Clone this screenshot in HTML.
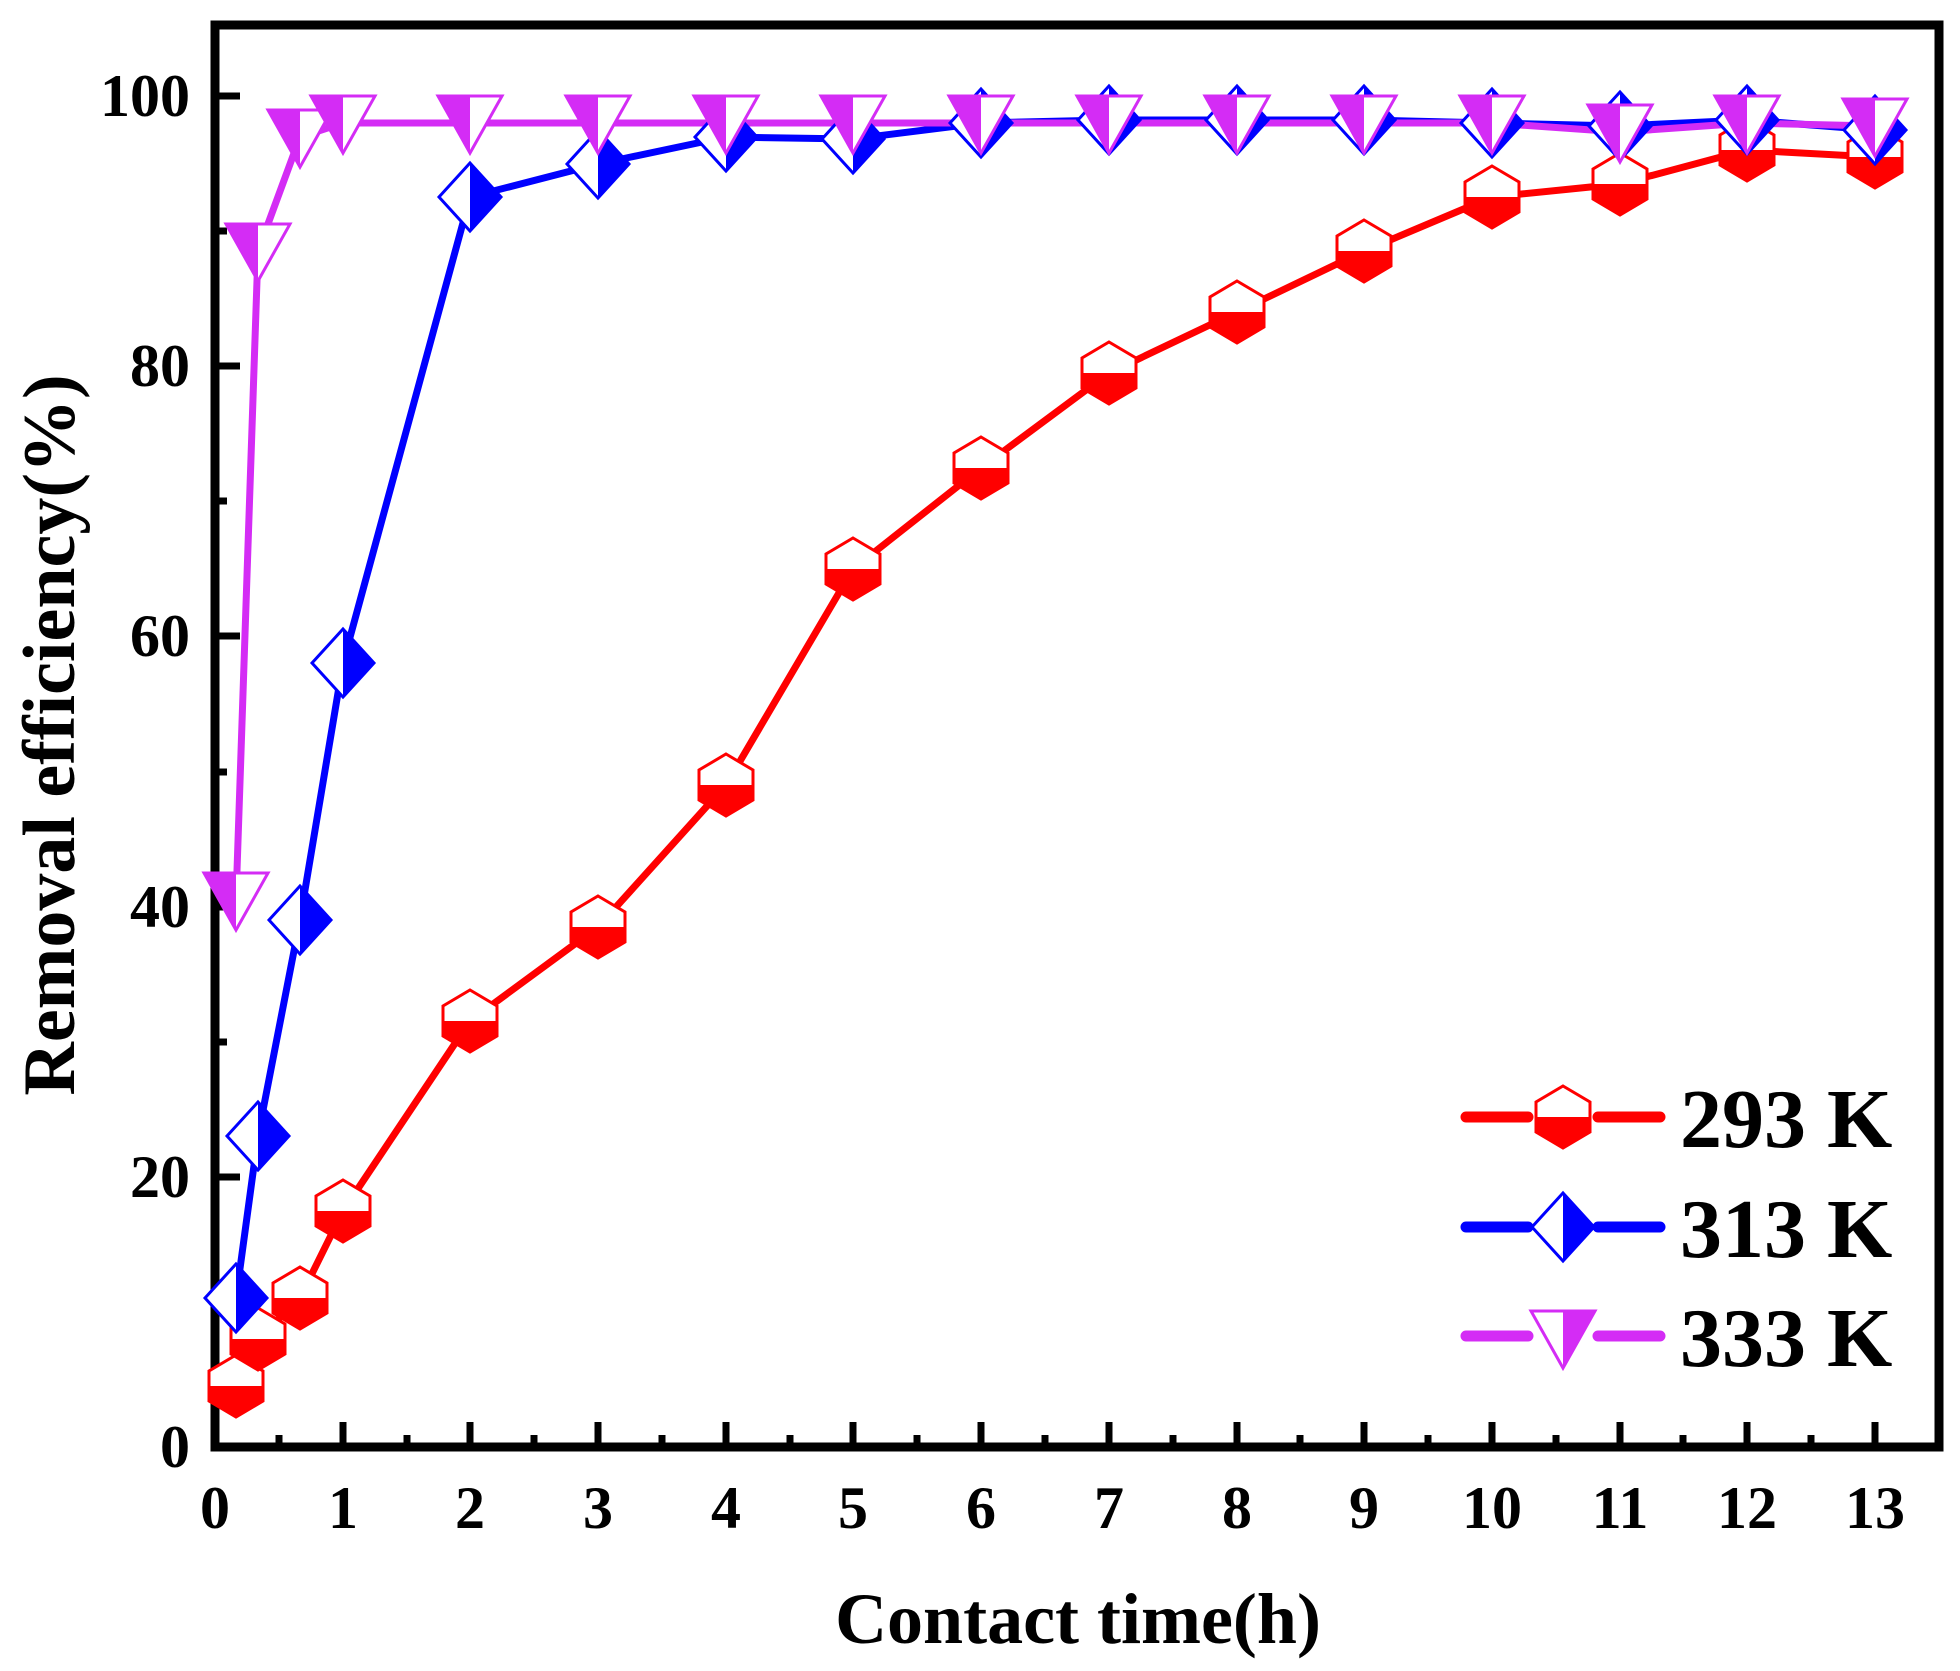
<!DOCTYPE html>
<html><head><meta charset="utf-8"><style>html,body{margin:0;padding:0;background:#fff}svg{display:block}</style></head>
<body>
<svg width="1960" height="1671" viewBox="0 0 1960 1671" xmlns="http://www.w3.org/2000/svg" font-family="Liberation Serif, serif" font-weight="bold">
<defs>
<g id="hex"><polygon points="0,-31 27,-15 27,15 0,31 -27,15 -27,-15" fill="#fff" stroke="#ff0000" stroke-width="3"/><polygon points="27,0 27,15 0,31 -27,15 -27,0" fill="#ff0000"/></g>
<g id="dia"><polygon points="0,-34 31,0 0,34 -31,0" fill="#fff" stroke="#0000ff" stroke-width="3"/><polygon points="0,-34 31,0 0,34" fill="#0000ff"/></g>
<g id="tri"><polygon points="-32,-27 32,-27 0,30" fill="#fff" stroke="#d42cf5" stroke-width="3"/><polygon points="-32,-27 0,-27 0,30" fill="#d42cf5"/></g>
</defs>
<rect x="215" y="25" width="1724" height="1422" fill="none" stroke="#000" stroke-width="9"/>
<g stroke="#000" stroke-width="7">
<path d="M343 1447v-25M470 1447v-25M598 1447v-25M726 1447v-25M853 1447v-25M981 1447v-25M1109 1447v-25M1237 1447v-25M1364 1447v-25M1492 1447v-25M1620 1447v-25M1747 1447v-25M1875 1447v-25"/>
<path d="M279 1447v-12M407 1447v-12M534 1447v-12M662 1447v-12M790 1447v-12M917 1447v-12M1045 1447v-12M1173 1447v-12M1300 1447v-12M1428 1447v-12M1556 1447v-12M1683 1447v-12M1811 1447v-12"/>
<path d="M215 1177h25M215 907h25M215 636h25M215 366h25M215 96h25"/>
<path d="M215 1312h12M215 1042h12M215 772h12M215 501h12M215 231h12"/>
</g>
<g font-size="60" text-anchor="middle" fill="#000">
<text x="215" y="1528">0</text><text x="343" y="1528">1</text><text x="470" y="1528">2</text><text x="598" y="1528">3</text><text x="726" y="1528">4</text><text x="853" y="1528">5</text><text x="981" y="1528">6</text><text x="1109" y="1528">7</text><text x="1237" y="1528">8</text><text x="1364" y="1528">9</text><text x="1492" y="1528">10</text><text x="1620" y="1528">11</text><text x="1747" y="1528">12</text><text x="1875" y="1528">13</text>
</g>
<g font-size="60" text-anchor="end" fill="#000">
<text x="190" y="1467">0</text><text x="190" y="1197">20</text><text x="190" y="927">40</text><text x="190" y="656">60</text><text x="190" y="386">80</text><text x="190" y="116">100</text>
</g>
<text x="1078" y="1643" font-size="72" text-anchor="middle">Contact time(h)</text>
<text transform="translate(74,735) rotate(-90)" font-size="74" text-anchor="middle">Removal efficiency(%)</text>
<g fill="none" stroke-width="7" stroke-linejoin="round">
<polyline stroke="#ff0000" points="236,1386 258,1339 300,1298 343,1211 470,1021 598,927 726,785 853,569 981,468 1109,373 1237,312 1364,251 1492,197 1620,184 1747,150 1875,157"/>
<polyline stroke="#0000ff" points="236,1298 258,1136 300,920 343,663 470,197 598,164 726,137 853,139 981,123 1109,120 1237,120 1364,120 1492,123 1620,126 1747,120 1875,130"/>
<polyline stroke="#d42cf5" points="236,900 258,251 300,137 343,123 470,123 598,123 726,123 853,123 981,123 1109,123 1237,123 1364,123 1492,123 1620,132 1747,123 1875,126"/>
</g>
<g>
<use href="#hex" x="236" y="1386"/><use href="#hex" x="258" y="1339"/><use href="#hex" x="300" y="1298"/><use href="#hex" x="343" y="1211"/><use href="#hex" x="470" y="1021"/><use href="#hex" x="598" y="927"/><use href="#hex" x="726" y="785"/><use href="#hex" x="853" y="569"/><use href="#hex" x="981" y="468"/><use href="#hex" x="1109" y="373"/><use href="#hex" x="1237" y="312"/><use href="#hex" x="1364" y="251"/><use href="#hex" x="1492" y="197"/><use href="#hex" x="1620" y="184"/><use href="#hex" x="1747" y="150"/><use href="#hex" x="1875" y="157"/>
<use href="#dia" x="236" y="1298"/><use href="#dia" x="258" y="1136"/><use href="#dia" x="300" y="920"/><use href="#dia" x="343" y="663"/><use href="#dia" x="470" y="197"/><use href="#dia" x="598" y="164"/><use href="#dia" x="726" y="137"/><use href="#dia" x="853" y="139"/><use href="#dia" x="981" y="123"/><use href="#dia" x="1109" y="120"/><use href="#dia" x="1237" y="120"/><use href="#dia" x="1364" y="120"/><use href="#dia" x="1492" y="123"/><use href="#dia" x="1620" y="126"/><use href="#dia" x="1747" y="120"/><use href="#dia" x="1875" y="130"/>
<use href="#tri" x="236" y="900"/><use href="#tri" x="258" y="251"/><use href="#tri" x="300" y="137"/><use href="#tri" x="343" y="123"/><use href="#tri" x="470" y="123"/><use href="#tri" x="598" y="123"/><use href="#tri" x="726" y="123"/><use href="#tri" x="853" y="123"/><use href="#tri" x="981" y="123"/><use href="#tri" x="1109" y="123"/><use href="#tri" x="1237" y="123"/><use href="#tri" x="1364" y="123"/><use href="#tri" x="1492" y="123"/><use href="#tri" x="1620" y="132"/><use href="#tri" x="1747" y="123"/><use href="#tri" x="1875" y="126"/>
</g>
<g stroke-width="11" stroke-linecap="round">
<path d="M1466 1117h62M1598 1117h62" stroke="#ff0000"/>
<path d="M1466 1227h62M1598 1227h62" stroke="#0000ff"/>
<path d="M1466 1336h62M1598 1336h62" stroke="#d42cf5"/>
</g>
<use href="#hex" x="1563" y="1117"/>
<use href="#dia" x="1563" y="1227"/>
<g transform="translate(1563,1338) scale(-1,1)"><use href="#tri"/></g>
<g font-size="84" fill="#000">
<text x="1680" y="1147">293 K</text>
<text x="1680" y="1257">313 K</text>
<text x="1680" y="1366">333 K</text>
</g>
</svg>
</body></html>
